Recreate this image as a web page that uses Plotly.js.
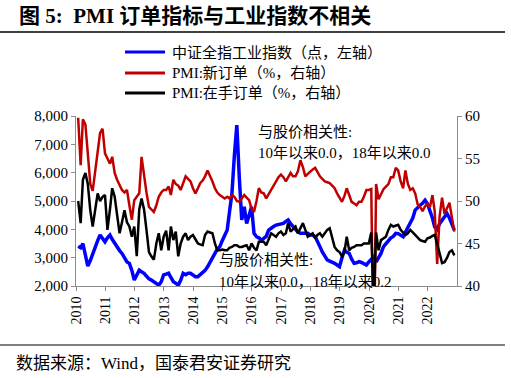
<!DOCTYPE html>
<html><head><meta charset="utf-8">
<script src="https://cdn.plot.ly/plotly-3.0.1.min.js"></script>
<style>html,body{margin:0;padding:0;background:#fff;}#chart{width:511px;height:378px;}</style>
</head><body><div id="chart"></div>
<script>
// Monthly observations, Jan 2010 .. Nov 2022
const startYear = 2010;
const monthCount = 155;
const seriesNames = ['中证全指工业指数（点，左轴）', 'PMI:新订单（%，右轴）', 'PMI:在手订单（%，右轴）'];
const seriesColors = ['#0000FF', '#C00000', '#000000'];

const industryIndex = [
  3400,3350,3500,3100,2700,2900,3150,3350,3600,3800,3650,3560,
  3700,3800,3650,3500,3400,3250,3150,3000,2850,2800,2550,2210,
  2400,2560,2500,2450,2350,2250,2210,2150,2080,2030,2150,2390,
  2420,2450,2300,2150,2100,2030,2200,2450,2400,2450,2450,2400,
  2330,2330,2400,2450,2550,2680,2850,3030,3150,3300,3390,3600,
  3800,3975,4600,5270,6600,7680,5860,4330,4800,4210,4500,4800,
  3860,3740,3700,3620,3680,3750,3975,4050,4100,4150,4180,4200,
  4210,4280,4330,4200,4090,4000,3900,3860,3860,3850,3860,3800,
  3800,3740,3600,3390,3200,3050,2920,2880,2850,2800,2740,2680,
  3000,3270,3200,3150,2950,2800,2820,2860,2830,2800,2740,2850,
  2950,3030,2850,3000,3150,3390,3500,3620,3700,3750,3860,3850,
  3800,3740,3900,4050,4210,4400,4680,4780,4850,4920,5030,4900,
  4680,4400,4090,4000,4200,4330,4450,4560,4400,4210,3975
];

const pmiNewOrders = [
  59.8,54.2,59.6,59.0,55.6,52.0,51.2,53.5,56.0,58.0,58.5,55.6,
  55.0,54.4,55.2,53.3,52.5,51.8,51.3,51.0,51.3,49.5,47.8,50.1,
  50.5,50.9,55.2,52.9,51.0,49.3,49.0,48.7,49.5,50.5,51.0,51.3,
  51.3,51.7,50.7,52.5,52.0,51.8,51.3,52.0,52.9,52.6,52.3,51.5,
  50.9,51.5,52.1,52.4,52.9,53.6,53.0,52.3,51.5,51.0,50.7,50.5,
  50.3,50.5,50.3,50.7,50.5,50.0,49.9,50.3,50.7,50.4,50.1,49.1,
  48.7,50.0,51.5,51.0,50.9,50.3,50.8,51.3,51.8,52.3,52.8,53.1,
  52.8,52.3,52.8,53.3,52.9,52.9,53.5,54.8,54.0,52.9,53.2,53.5,
  53.7,53.9,53.4,52.9,52.6,52.3,52.2,52.1,51.8,51.5,50.9,50.4,
  49.9,50.6,51.5,50.7,49.9,49.7,49.5,49.9,49.9,50.5,51.3,51.3,
  51.4,29.3,52.0,50.2,50.9,51.4,51.7,52.0,52.8,52.8,53.9,53.6,
  52.3,51.5,53.6,52.0,51.3,51.5,50.9,49.6,49.3,48.8,49.4,49.7,
  49.3,50.7,48.8,42.6,48.2,50.4,48.5,49.2,49.8,48.1,46.4
];

const pmiBacklog = [
  50.0,47.4,52.5,53.3,52.0,48.9,47.0,48.9,50.9,50.0,50.5,50.7,
  46.6,49.0,51.5,50.5,48.5,46.2,47.5,48.9,47.5,47.0,45.8,47.0,
  43.5,49.0,50.3,49.0,46.6,44.0,43.5,43.1,45.0,46.2,44.2,45.8,
  46.5,44.2,47.0,45.4,46.4,43.5,45.0,45.8,46.2,45.4,45.8,46.0,
  45.5,45.0,44.9,44.8,46.0,46.4,46.3,46.2,45.0,44.2,44.2,44.3,
  44.2,44.2,44.5,44.6,44.8,44.8,44.6,44.6,44.7,44.8,44.2,45.0,
  44.5,44.2,45.2,45.2,45.2,44.8,45.5,46.2,46.0,45.8,46.2,46.4,
  46.0,46.2,47.4,46.4,46.7,47.0,46.2,46.8,47.4,46.6,45.8,46.0,
  46.2,45.6,46.0,46.2,45.8,46.2,46.6,46.8,45.5,44.6,44.2,44.0,
  43.5,44.0,45.8,44.2,44.5,44.6,44.8,44.8,44.8,45.0,45.0,45.0,
  46.3,38.0,46.3,44.2,45.4,45.6,45.8,46.6,47.2,47.0,47.1,47.2,
  46.6,46.3,46.0,46.2,46.6,46.3,46.0,45.6,45.4,45.3,45.2,45.6,
  45.7,45.9,46.0,45.0,44.0,42.7,42.8,43.3,44.0,44.2,43.6
];

const leftTicks = [2000,3000,4000,5000,6000,7000,8000];
const rightTicks = [40,45,50,55,60];

const months = [];
for (let i = 0; i < monthCount; i++) {
  const y = startYear + Math.floor(i / 12);
  const m = (i % 12) + 1;
  months.push(y + '-' + String(m).padStart(2, '0') + '-28');
}

const SERIF = "'Liberation Serif','Times New Roman','Noto Sans CJK SC',serif";
const px2x = p => (p - 76) / 381;
const px2y = p => (286 - p) / 170;

const traces = [
  {x: months, y: industryIndex, name: seriesNames[0], type: 'scatter', mode: 'lines',
   line: {color: seriesColors[0], width: 3.5}, yaxis: 'y'},
  {x: months, y: pmiNewOrders, name: seriesNames[1], type: 'scatter', mode: 'lines',
   line: {color: seriesColors[1], width: 2.5}, yaxis: 'y2'},
  {x: months, y: pmiBacklog, name: seriesNames[2], type: 'scatter', mode: 'lines',
   line: {color: seriesColors[2], width: 2.5}, yaxis: 'y2'}
];

const axisStyle = {
  showline: true, linecolor: '#8c8c8c', linewidth: 1, ticks: 'outside', ticklen: 4,
  tickcolor: '#8c8c8c', showgrid: false, zeroline: false
};

const shapes = [
  {type: 'line', xref: 'paper', yref: 'paper', x0: px2x(0), x1: px2x(505), y0: px2y(32), y1: px2y(32),
   line: {color: '#000', width: 1.5}},
  {type: 'line', xref: 'paper', yref: 'paper', x0: px2x(0), x1: px2x(505), y0: px2y(345), y1: px2y(345),
   line: {color: '#000', width: 1}}
];
const annotations = [
  {xref: 'paper', yref: 'paper', x: px2x(17), y: px2y(16), xanchor: 'left', yanchor: 'middle',
   showarrow: false, text: '<b>图 5:  PMI 订单指标与工业指数不相关</b>',
   font: {family: SERIF, size: 21, color: '#000'}},
  {xref: 'paper', yref: 'paper', x: px2x(256), y: px2y(132), xanchor: 'left', yanchor: 'middle',
   showarrow: false, text: '与股价相关性:', font: {family: SERIF, size: 15, color: '#000'}},
  {xref: 'paper', yref: 'paper', x: px2x(256), y: px2y(153), xanchor: 'left', yanchor: 'middle',
   showarrow: false, text: '10年以来0.0，18年以来0.0', font: {family: SERIF, size: 15, color: '#000'}},
  {xref: 'paper', yref: 'paper', x: px2x(217), y: px2y(260), xanchor: 'left', yanchor: 'middle',
   showarrow: false, text: '与股价相关性:', font: {family: SERIF, size: 15, color: '#000'}},
  {xref: 'paper', yref: 'paper', x: px2x(217), y: px2y(282), xanchor: 'left', yanchor: 'middle',
   showarrow: false, text: '10年以来0.0，18年以来0.2', font: {family: SERIF, size: 15, color: '#000'}},
  {xref: 'paper', yref: 'paper', x: px2x(14), y: px2y(363), xanchor: 'left', yanchor: 'middle',
   showarrow: false, text: '数据来源：Wind，国泰君安证券研究', font: {family: SERIF, size: 17, color: '#000'}}
];

// Legend rows (line sample + label)
const legendRowsY = [52, 73, 93];
seriesNames.forEach((name, i) => {
  shapes.push({type: 'line', xref: 'paper', yref: 'paper', x0: px2x(125), x1: px2x(165),
               y0: px2y(legendRowsY[i]), y1: px2y(legendRowsY[i]),
               line: {color: seriesColors[i], width: 3}});
  annotations.push({xref: 'paper', yref: 'paper', x: px2x(170), y: px2y(legendRowsY[i]),
                    xanchor: 'left', yanchor: 'middle', showarrow: false, text: name,
                    font: {family: SERIF, size: 15, color: '#000'}});
});

const layout = {
  width: 511, height: 378,
  margin: {l: 76, r: 54, t: 116, b: 92},
  paper_bgcolor: '#fff', plot_bgcolor: '#fff',
  font: {family: SERIF, color: '#000'},
  showlegend: false,
  xaxis: Object.assign({}, axisStyle, {
    type: 'date', range: ['2010-01-01', '2022-12-31'],
    tick0: '2010-01-01', dtick: 'M12', tickformat: '%Y', tickangle: -90,
    tickfont: {family: SERIF, size: 14, color: '#000'}
  }),
  yaxis: Object.assign({}, axisStyle, {
    range: [2000, 8000], tickvals: leftTicks, tickformat: ',d',
    tickfont: {family: SERIF, size: 15, color: '#000'}
  }),
  yaxis2: Object.assign({}, axisStyle, {
    overlaying: 'y', side: 'right', range: [40, 60], tickvals: rightTicks,
    tickfont: {family: SERIF, size: 15, color: '#000'}
  }),
  shapes: shapes,
  annotations: annotations
};

Plotly.newPlot('chart', traces, layout, {displayModeBar: false, staticPlot: true});
</script>
</body></html>
